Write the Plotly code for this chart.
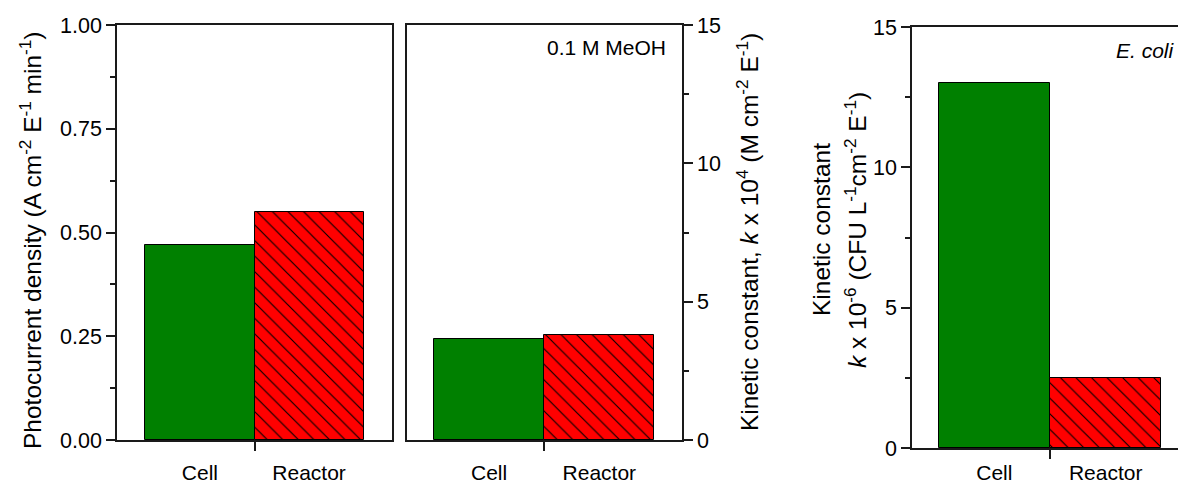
import plotly.graph_objects as go

categories = ["Cell", "Reactor"]
photocurrent = [0.47, 0.55]
k_meoh = [3.65, 3.8]
k_ecoli = [13.0, 2.5]
bar_colors = ["#008000", "#FF0000"]
bar_patterns = ["", "\\"]

W, H = 1178, 483
FONT = "Liberation Sans, Arial, sans-serif"
LC = "#1a1a1a"

def px(x):
    return x / W

def py(y):
    return 1 - y / H

pos = list(range(len(categories)))

fig = go.Figure()

def add_bars(vals, xa, ya):
    for i, (p, v) in enumerate(zip(pos, vals)):
        marker = dict(color=bar_colors[i], line=dict(color="black", width=1))
        if bar_patterns[i]:
            marker["pattern"] = dict(shape=bar_patterns[i], fgcolor="black", fgopacity=1,
                                     size=11, solidity=0.1, fillmode="overlay")
        fig.add_trace(go.Bar(x=[p], y=[v], width=1, xaxis=xa, yaxis=ya, marker=marker,
                             showlegend=False, hoverinfo="skip"))

add_bars(photocurrent, "x", "y")
add_bars(k_meoh, "x2", "y2")
add_bars(k_ecoli, "x3", "y3")

def xaxis_common(dom, rng, anchor, standoff):
    return dict(domain=dom, range=rng, tickvals=pos, ticktext=categories, anchor=anchor,
                ticks="", showline=True, linecolor=LC, linewidth=1.5, mirror=True,
                showgrid=False, zeroline=False, ticklabelstandoff=standoff,
                automargin=False,
                tickfont=dict(family=FONT, size=21, color="black"),
                minor=dict(tickvals=[0.5], ticks="outside", ticklen=9,
                           tickcolor=LC, tickwidth=1.5))

def yaxis_common(dom, rng, dtick, mdtick, fmt, mirror, side, anchor):
    return dict(domain=dom, range=rng, dtick=dtick, tick0=0, tickformat=fmt,
                ticks="outside", ticklen=9, tickwidth=1.5, tickcolor=LC,
                showline=True, linecolor=LC, linewidth=1.5, mirror=mirror,
                side=side, anchor=anchor, showgrid=False, zeroline=False,
                automargin=False,
                tickfont=dict(family=FONT, size=21.5, color="black"),
                minor=dict(dtick=mdtick, ticks="outside", ticklen=5,
                           tickcolor=LC, tickwidth=1.5))

dom_y12 = [py(440), py(25)]
dom_y3 = [py(448), py(27)]

fig.update_layout(
    width=W, height=H, margin=dict(l=0, r=0, t=0, b=0, autoexpand=False),
    paper_bgcolor="white", plot_bgcolor="white", bargap=0, barmode="overlay",
    font=dict(family=FONT, size=21, color="black"),
    xaxis=xaxis_common([px(117), px(392)], [-0.76, 1.76], "y", 13),
    yaxis=yaxis_common(dom_y12, [0, 1], 0.25, 0.125, ".2f", True, "left", "x"),
    xaxis2=xaxis_common([px(407), px(682)], [-0.745, 1.75], "y2", 13),
    yaxis2=yaxis_common(dom_y12, [0, 15], 5, 2.5, "d", True, "right", "x2"),
    xaxis3=xaxis_common([px(912), 1.0], [-0.74, 1.65], "y3", 5),
    yaxis3=yaxis_common(dom_y3, [0, 15], 5, 2.5, "d", False, "left", "x3"),
)

title_font = dict(family=FONT, size=24.5, color="black")
annotations = [
    dict(text="Photocurrent density (A cm<sup>-2</sup> E<sup>-1</sup> min<sup>-1</sup>)",
         x=px(30), y=py(240), textangle=-90),
    dict(text="Kinetic constant, <i>k</i> x 10<sup>4</sup> (M cm<sup>-2</sup> E<sup>-1</sup>)",
         x=px(748), y=py(232), textangle=-90),
    dict(text="Kinetic constant", x=px(821), y=py(230), textangle=-90),
    dict(text="<i>k</i> x 10<sup>-6</sup> (CFU L<sup>-1</sup>cm<sup>-2</sup> E<sup>-1</sup>)",
         x=px(855), y=py(230), textangle=-90),
]
for a in annotations:
    fig.add_annotation(xref="paper", yref="paper", showarrow=False,
                       xanchor="center", yanchor="middle", font=title_font, **a)

ann_font = dict(family=FONT, size=21, color="black")
fig.add_annotation(text="0.1 M MeOH", xref="paper", yref="paper", x=px(668), y=py(48),
                   xanchor="right", yanchor="middle", showarrow=False, font=ann_font)
fig.add_annotation(text="<i>E. coli</i>", xref="paper", yref="paper", x=px(1177), y=py(50),
                   xanchor="right", yanchor="middle", showarrow=False, font=ann_font)

fig.write_html("out.html")
